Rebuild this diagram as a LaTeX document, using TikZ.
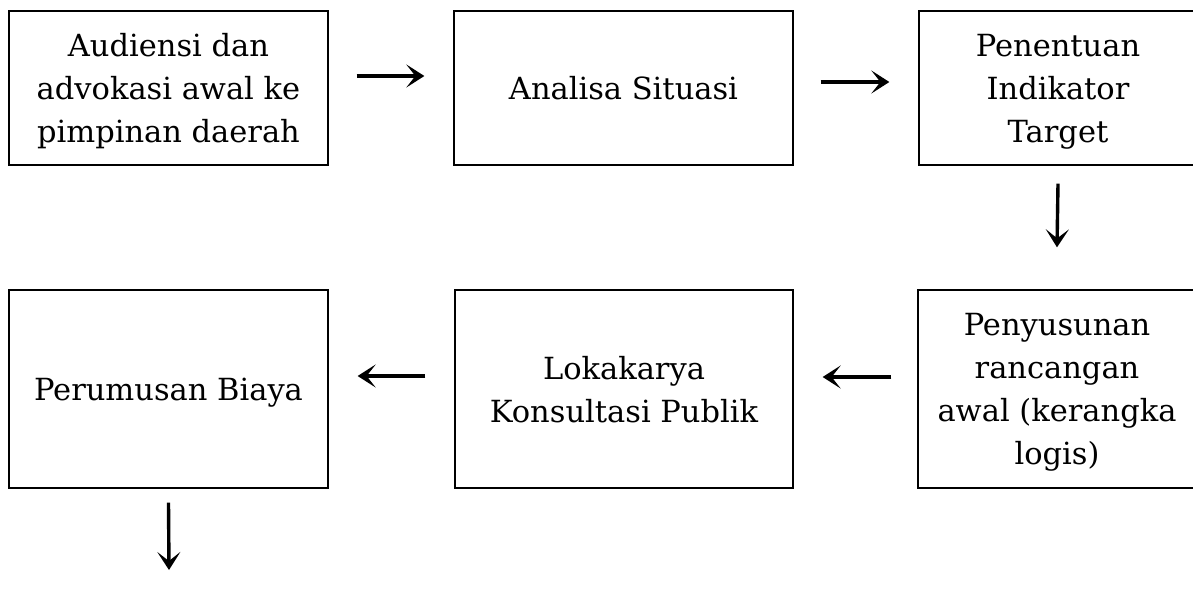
\documentclass[tikz,border=0pt]{standalone}
\usepackage{fontspec}
\setmainfont{DejaVu Serif}
\usetikzlibrary{arrows.meta}
\begin{document}
\begin{tikzpicture}[x=1pt,y=-1pt,
  box/.style={draw=black, line width=1.3pt, inner sep=0pt, align=center,
    font=\fontsize{30.5}{43}\selectfont, text depth=0pt},
  arr/.style={line width=3.4pt, -{Stealth[length=18pt,width=23pt,inset=9pt]}}]
\useasboundingbox (0,0) rectangle (1193,602);
\node[box, minimum width=319pt, minimum height=154pt] (b1) at (168.5,88) {Audiensi dan\\advokasi awal ke\\pimpinan daerah};
\node[box, minimum width=339pt, minimum height=154pt] (b2) at (623.5,88) {Analisa Situasi};
\node[box, minimum width=278pt, minimum height=154pt] (b3) at (1058,88) {Penentuan\\Indikator\\Target};
\node[box, minimum width=319pt, minimum height=198pt] (b4) at (168.5,389) {Perumusan Biaya};
\node[box, minimum width=338pt, minimum height=198pt] (b5) at (624,389) {Lokakarya\\Konsultasi Publik};
\node[box, minimum width=278pt, minimum height=198pt] (b6) at (1057,389) {Penyusunan\\rancangan\\awal (kerangka\\logis)};
\coordinate (end) at (169,570);
\draw[arr] ([xshift=28pt,yshift=12pt]b1.east) -- ([xshift=-29pt,yshift=12pt]b2.west);
\draw[arr] ([xshift=27pt,yshift=6pt]b2.east) -- ([xshift=-29pt,yshift=6pt]b3.west);
\draw[arr] ([yshift=-18pt]b3.south) -- ([yshift=42pt]b6.north);
\draw[arr] ([xshift=-26pt,yshift=12pt]b6.west) -- ([xshift=29pt,yshift=12pt]b5.east);
\draw[arr] ([xshift=-29pt,yshift=13pt]b5.west) -- ([xshift=29pt,yshift=13pt]b4.east);
\draw[arr] ([yshift=-14pt]b4.south) -- (end);
\end{tikzpicture}
\end{document}
